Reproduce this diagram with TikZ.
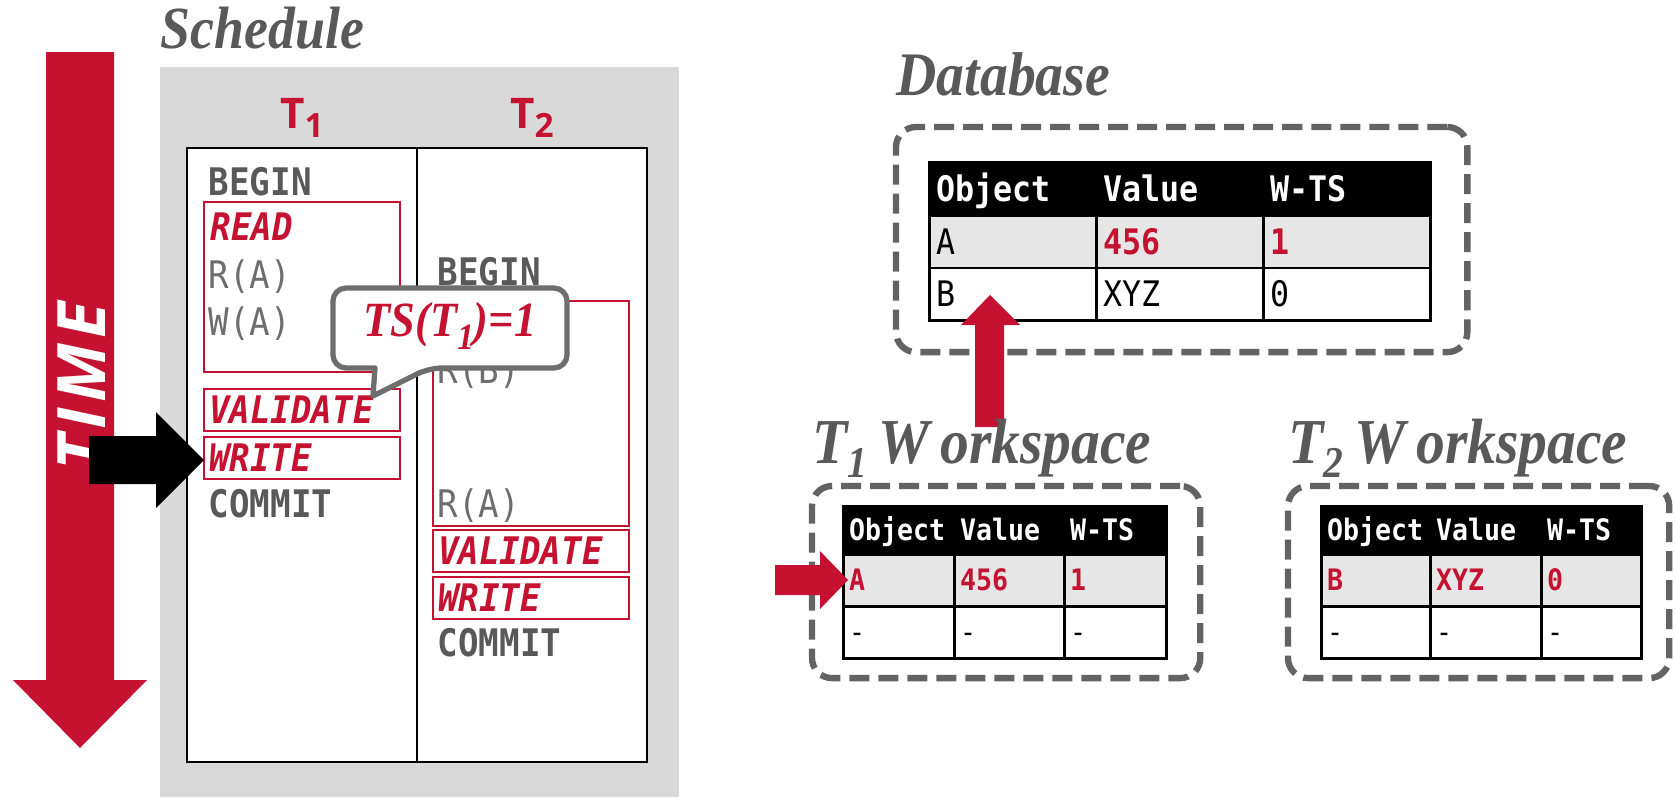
\documentclass[tikz,border=0pt]{standalone}
\usepackage{fontspec}
\setmainfont{Liberation Serif}
\setsansfont{Open Sans}
\newfontfamily\codefont[FakeStretch=0.9]{DejaVu Sans Mono}
\newfontfamily\headfont[FakeStretch=0.9]{Liberation Serif}
\usepackage{tikz}
\usetikzlibrary{positioning,calc}
\definecolor{cmured}{HTML}{C41230}
\definecolor{inkgray}{HTML}{595959}
\definecolor{softgray}{HTML}{6E6E6E}
\definecolor{dashgray}{HTML}{636363}
\definecolor{schedgray}{HTML}{D9D9D9}
\definecolor{rowgray}{HTML}{E6E6E6}
\newcommand{\redval}[1]{\textcolor{cmured}{\bfseries #1}}
\newcommand{\subdig}[3]{\raisebox{-#1}{\fontsize{#2}{#2}\selectfont #3}}
\tikzset{
  heading/.style={font=\headfont\bfseries\itshape\fontsize{17}{17}\selectfont,
    text=inkgray, inner sep=0pt, anchor=base west},
  bigheading/.style={heading, font=\headfont\bfseries\itshape\fontsize{18.2}{18.2}\selectfont},
  coltitle/.style={font=\sffamily\bfseries\fontsize{12}{12}\selectfont,
    text=cmured, inner sep=0pt, anchor=base},
  timelabel/.style={font=\sffamily\bfseries\itshape\fontsize{19}{19}\selectfont
    \addfontfeature{LetterSpace=8}, text=white, inner sep=0pt},
  schedcol/.style={rectangle, draw=black, line width=0.6pt, fill=white,
    anchor=north west, minimum width=2.30cm, minimum height=6.14cm, outer sep=0pt},
  opline/.style={font=\codefont\bfseries\fontsize{10.8}{10.8}\selectfont,
    text=inkgray, inner sep=0pt, anchor=base west},
  accline/.style={font=\codefont\fontsize{10.8}{10.8}\selectfont,
    text=softgray, inner sep=0pt, anchor=base west},
  phaseline/.style={font=\codefont\bfseries\itshape\fontsize{10.8}{10.8}\selectfont,
    text=cmured, inner sep=0pt, anchor=base west},
  phasebox/.style={rectangle, draw=cmured, line width=0.6pt, anchor=north west,
    minimum width=1.96cm, outer sep=0pt},
  phasetag/.style={phaseline, phasebox, minimum height=0.42cm, text width=1.86cm,
    inner xsep=0.05cm, inner ysep=0pt, align=left, text height=7.9pt, text depth=0pt},
  bubbleline/.style={draw=softgray, line width=1.5pt, line join=round},
  bubbletext/.style={font=\headfont\bfseries\itshape\fontsize{14}{14}\selectfont,
    text=cmured, inner sep=0pt},
  dashframe/.style={rectangle, draw=dashgray, line width=1.8pt, rounded corners=0.2cm,
    dash pattern=on 0.2cm off 0.09cm, anchor=north west, outer sep=0pt},
  dbcell/.style={rectangle, draw=black, line width=0.85pt, anchor=north west, outer sep=0pt,
    font=\codefont\fontsize{10}{10}\selectfont, minimum width=1.67cm, text width=1.53cm,
    inner xsep=0.07cm, inner ysep=0pt, align=left, text height=7.3pt, text depth=0pt},
  wscell/.style={rectangle, draw=black, line width=0.85pt, anchor=north west, outer sep=0pt,
    font=\codefont\fontsize{8.4}{8.4}\selectfont,
    inner xsep=0.06cm, inner ysep=0pt, align=left, text height=6.1pt, text depth=0pt},
  hdrcell/.style={fill=black, text=white, execute at begin node=\bfseries},
  hlcell/.style={fill=rowgray},
  plaincell/.style={fill=white},
}
\begin{document}
\begin{tikzpicture}[x=0.01cm, y=-0.01cm]
  \useasboundingbox (0,0) rectangle (1676,797);
  \fill[white] (0,0) rectangle (1676,797);

  % time arrow
  \fill[cmured] (46,52) -- (114,52) -- (114,680) -- (147,680) -- (80,748)
    -- (13,680) -- (46,680) -- cycle;
  \node[timelabel, rotate=90] (time) at (82,386) {TIME};

  % schedule
  \node[heading] (schedtitle) at (160,48) {Schedule};
  \fill[schedgray] (160,67) rectangle (679,797);
  \node[schedcol] (col1) at (187,148) {};
  \node[schedcol] (col2) at (417,148) {};
  \node[coltitle] (t1name) at (302,128) {T\subdig{2.6pt}{9.5}{1}};
  \node[coltitle] (t2name) at (532,128) {T\subdig{2.6pt}{9.5}{2}};

  \node[opline] (b1) at (208,195) {BEGIN};
  \node[phasebox, minimum height=1.70cm] (read1) at (204,202) {};
  \node[phaseline] (read1tag) at (210,240) {READ};
  \node[accline] (ra1) at (208,288) {R(A)};
  \node[accline] (wa1) at (208,335) {W(A)};
  \node[phasetag] (val1) at (204,389) {VALIDATE};
  \node[phasetag] (wr1) at (204,437) {WRITE};
  \node[opline] (c1) at (208,517) {COMMIT};

  \node[opline] (b2) at (437,285) {BEGIN};
  \node[phasebox, minimum height=2.25cm] (read2) at (433,301) {};
  \node[accline] (rb2) at (437,383) {R(B)};
  \node[accline] (ra2) at (437,517) {R(A)};
  \node[phasetag] (val2) at (433,530) {VALIDATE};
  \node[phasetag] (wr2) at (433,577) {WRITE};
  \node[opline] (c2) at (437,656) {COMMIT};

  \fill[black] ($(wr1.west)+(0,2)$) -- ++(-48,-48) -- ++(0,24) -- ++(-67,0)
    -- ++(0,48) -- ++(67,0) -- ++(0,24) -- cycle;

  % timestamp bubble
  \draw[bubbleline, fill=white, rounded corners=0.13cm] (333,288) -- (567,288)
    -- (567,368) -- (429,368) [sharp corners] -- (373,396) -- (375,368)
    [rounded corners=0.13cm] -- (333,368) -- cycle;
  \node[bubbletext] (ts) at (450,326) {TS(T\subdig{3.7pt}{10.5}{1})=1};

  % database
  \node[heading] (dbtitle) at (896,95) {\fontsize{17.6}{17.6}\selectfont Database};
  \node[dashframe, minimum width=5.71cm, minimum height=2.25cm] (dbframe) at (896,127) {};
  \foreach \x/\t [count=\c] in {929/Object, 1096/Value, 1263/W-TS}
    \node[dbcell, hdrcell, minimum height=0.54cm] (db-h-\c) at (\x,162) {\t};
  \foreach \x/\t [count=\c] in {929/A, 1096/\redval{456}, 1263/\redval{1}}
    \node[dbcell, hlcell, minimum height=0.52cm] (db-a-\c) at (\x,216) {\t};
  \foreach \x/\t [count=\c] in {929/B, 1096/XYZ, 1263/0}
    \node[dbcell, plaincell, minimum height=0.52cm] (db-b-\c) at (\x,268) {\t};

  \coordinate (dbentry) at (990,295);
  \fill[cmured] (dbentry) -- ++(30,30) -- ++(-16,0) -- ++(0,102) -- ++(-29,0)
    -- ++(0,-102) -- ++(-14,0) -- cycle;

  % T1 workspace
  \node[bigheading] (t1ws) at (812,463) {T\subdig{4pt}{12.5}{1}\,W\,orkspace};
  \node[dashframe, minimum width=3.88cm, minimum height=1.92cm] (t1frame) at (812,486) {};
  \foreach \x/\w/\t [count=\c, evaluate=\w as \tw using \w-0.12] in
      {843/1.11/Object, 954/1.10/Value, 1064/1.02/W-TS}
    \node[wscell, hdrcell, minimum height=0.48cm, text width=\tw cm] (w1-h-\c) at (\x,506) {\t};
  \foreach \x/\w/\t [count=\c, evaluate=\w as \tw using \w-0.12] in
      {843/1.11/\redval{A}, 954/1.10/\redval{456}, 1064/1.02/\redval{1}}
    \node[wscell, hlcell, minimum height=0.52cm, text width=\tw cm] (w1-a-\c) at (\x,554) {\t};
  \foreach \x/\w/\t [count=\c, evaluate=\w as \tw using \w-0.12] in
      {843/1.11/-, 954/1.10/-, 1064/1.02/-}
    \node[wscell, plaincell, minimum height=0.52cm, text width=\tw cm] (w1-b-\c) at (\x,606) {\t};

  \fill[cmured] ($(w1-a-1.west)+(5,0)$) -- ++(-28,-29) -- ++(0,14) -- ++(-45,0)
    -- ++(0,30) -- ++(45,0) -- ++(0,14) -- cycle;

  % T2 workspace
  \node[bigheading] (t2ws) at (1288,463) {T\subdig{4pt}{12.5}{2}\,W\,orkspace};
  \node[dashframe, minimum width=3.81cm, minimum height=1.92cm] (t2frame) at (1288,486) {};
  \foreach \x/\w/\t [count=\c, evaluate=\w as \tw using \w-0.12] in
      {1321/1.09/Object, 1430/1.11/Value, 1541/1.00/W-TS}
    \node[wscell, hdrcell, minimum height=0.48cm, text width=\tw cm] (w2-h-\c) at (\x,506) {\t};
  \foreach \x/\w/\t [count=\c, evaluate=\w as \tw using \w-0.12] in
      {1321/1.09/\redval{B}, 1430/1.11/\redval{XYZ}, 1541/1.00/\redval{0}}
    \node[wscell, hlcell, minimum height=0.52cm, text width=\tw cm] (w2-a-\c) at (\x,554) {\t};
  \foreach \x/\w/\t [count=\c, evaluate=\w as \tw using \w-0.12] in
      {1321/1.09/-, 1430/1.11/-, 1541/1.00/-}
    \node[wscell, plaincell, minimum height=0.52cm, text width=\tw cm] (w2-b-\c) at (\x,606) {\t};
\end{tikzpicture}
\end{document}
